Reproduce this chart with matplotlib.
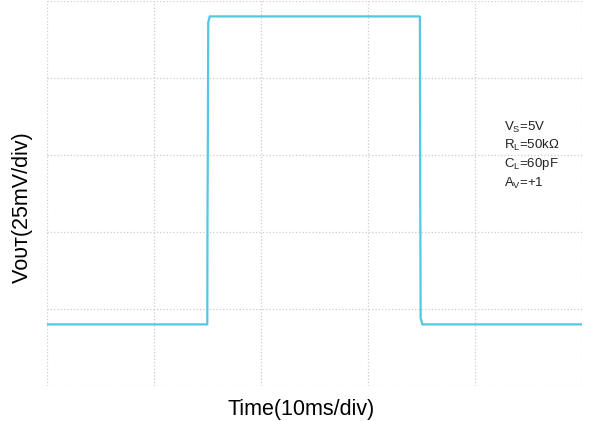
import matplotlib.pyplot as plt

# Output step response (time in ms, Vout in mV)
time_ms = [0.0, 14.98, 15.0, 15.03, 15.07, 15.2, 34.85, 34.88, 34.92, 35.08, 50.0]
vout_mv = [20.0, 20.0, 55.0, 78.0, 118.0, 120.0, 120.0, 65.0, 22.0, 20.0, 20.0]

x_ticks = [0, 10, 20, 30, 40, 50]
y_ticks = [0, 25, 50, 75, 100, 125]
notes = [r'V$_\mathregular{S}$=5V', r'R$_\mathregular{L}$=50kΩ',
         r'C$_\mathregular{L}$=60pF', r'A$_\mathregular{V}$=+1']

plt.rcParams['font.family'] = ['Liberation Sans', 'DejaVu Sans']

fig = plt.figure(figsize=[5.9, 4.21], dpi=100)
ax = fig.add_axes([47 / 590, 1 - 386 / 421, 535 / 590, 385 / 421])

ax.plot(time_ms, vout_mv, color='#55c6e3', lw=1.6)
ax.set_xlim(0, 50)
ax.set_ylim(0, 125)
ax.set_xticks(x_ticks)
ax.set_yticks(y_ticks)
ax.tick_params(length=0, labelbottom=False, labelleft=False)
ax.grid(True, ls=':', color='#cccccc', lw=0.9)
for s in ax.spines.values():
    s.set_visible(False)

# axis titles placed by hand, the original sits off-centre
fig.text(301 / 590, 1 - 409 / 421, 'Time(10ms/div)', fontsize=15.5,
         ha='center', va='center')
fig.text(22 / 590, 1 - 207 / 421, 'V\u1d0f\u1d1c\u1d1b(25mV/div)', fontsize=15.5,
         rotation=90, ha='center', va='center')

for i, note in enumerate(notes):
    fig.text(504 / 590, 1 - (127 + i * 18.7) / 421, note, fontsize=9.5,
             color='#222222', va='center', ha='left')

fig.savefig('out.png', dpi=100)
